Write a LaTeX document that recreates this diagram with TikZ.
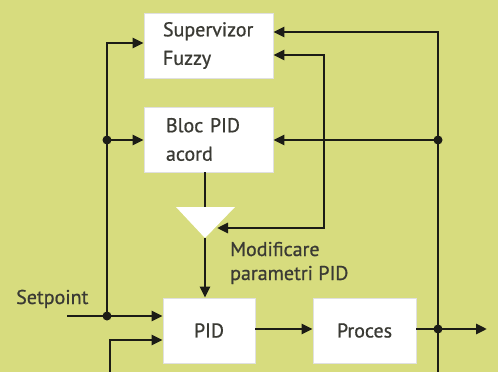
\documentclass[tikz,border=0pt]{standalone}
\usepackage{fontspec}
\setmainfont{PT Sans}[FakeBold=0.8]
\usetikzlibrary{arrows.meta}
\definecolor{bg}{HTML}{D7DC7E}
\definecolor{ink}{HTML}{1C1C16}
\definecolor{txt}{HTML}{3A3A34}
\begin{document}
\begin{tikzpicture}[x=1pt,y=-1pt,
  box/.style={draw=black!12,line width=0.8pt,fill=white,text=txt,font=\fontsize{20}{28.5}\selectfont},
  tip/.tip={Triangle[length=11pt,width=10pt]},
  conn/.style={draw=ink,line width=2.8pt,-tip},
  plain/.style={draw=ink,line width=2.8pt},
  dot/.style={circle,fill=ink,inner sep=0pt,minimum size=9pt},
  lbl/.style={text=txt,font=\fontsize{20}{24}\selectfont,inner sep=0pt}]
\fill[bg] (0,0) rectangle (498,372);
\useasboundingbox (0,0) rectangle (498,372);
% boxes
\node[box,minimum width=129pt,minimum height=65pt,text width=91pt,inner xsep=19pt,align=left] (sup) at (208.5,45.5) {\mbox{Supervizor}\\\mbox{Fuzzy}};
\node[box,minimum width=129pt,minimum height=65pt,text width=85pt,inner xsep=22pt,align=left] (bloc) at (208.5,139.5) {\mbox{Bloc PID}\\\mbox{acord}};
\node[box,minimum width=92pt,minimum height=65pt] (pid) at (209,330.5) {PID};
\node[box,minimum width=103pt,minimum height=65pt] (proc) at (364.5,330.5) {Proces};
% triangle
\coordinate (tl) at (176,207);
\coordinate (tr) at (235,207);
\coordinate (tri) at (205,238);
\coordinate (trtop) at (205,207);
\coordinate (trin) at (217,228);
\fill[white] (tl) -- (tr) -- (tri) -- cycle;
% labels
\node[lbl,anchor=base west] (setp) at (16,304) {Setpoint};
\node[lbl,anchor=base west,align=left] (modif) at (230,280) {Modificare\\parametri PID};
% junctions
\coordinate (sin) at (67,316);
\node[dot] (jl) at (107,316) {};
\node[dot] (jlb) at (107,140) {};
\node[dot] (jr) at (438,329) {};
\node[dot] (jrb) at (438,140) {};
\coordinate (out) at (487,329);
\coordinate (rbot) at (438,372);
\coordinate (lbot) at (110,372);
\coordinate (mid) at (324,55);
% connectors
\draw[conn] (sin) -- (pid.west |- sin);
\draw[conn] (jl.center) -- (jlb.center) |- (sup.west |- 0,43);
\draw[conn] (jlb.center) -- (bloc.west |- jlb);
\draw[conn] (pid.east |- 0,329) -- (proc.west |- 0,329);
\draw[conn] (proc.east |- 0,329) -- (out);
\draw[plain] (jr.center) -- (rbot);
\draw[conn] (jr.center) -- (jrb.center) |- (sup.east |- 0,32);
\draw[conn] (jrb.center) -- (bloc.east |- jrb);
\draw[conn] (lbot) |- (pid.west |- 0,340);
\draw[conn,tip-tip] (sup.east |- mid) -- (mid) |- (trin);
\draw[plain] (bloc.south -| trtop) -- (trtop);
\draw[conn] (tri) -- (pid.north -| tri);
\end{tikzpicture}
\end{document}
